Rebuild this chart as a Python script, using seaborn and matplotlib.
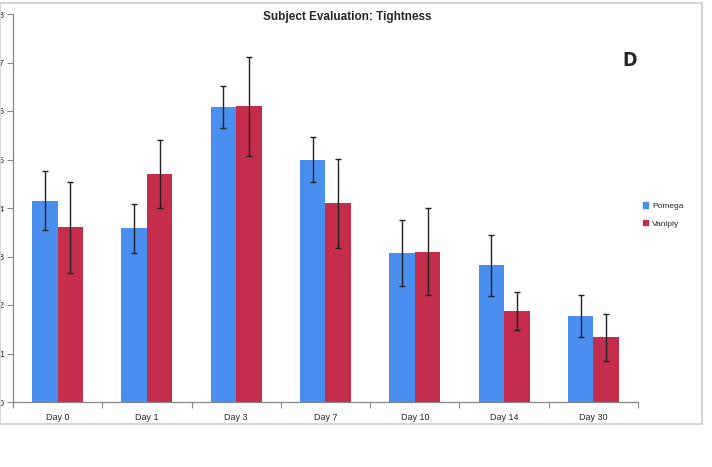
import matplotlib
matplotlib.use("Agg")
import matplotlib.pyplot as plt
import matplotlib.patches as mpatches
import seaborn as sns
import pandas as pd
import numpy as np

# data
days = ["Day 0", "Day 1", "Day 3", "Day 7", "Day 10", "Day 14", "Day 30"]
pomega = [4.15, 3.58, 6.08, 5.00, 3.08, 2.82, 1.77]
pomega_err = [0.61, 0.51, 0.44, 0.46, 0.68, 0.63, 0.44]
vaniply = [3.60, 4.70, 6.10, 4.10, 3.10, 1.88, 1.33]
vaniply_err = [0.93, 0.71, 1.02, 0.92, 0.89, 0.39, 0.49]
products = ["Pomega", "Vaniply"]
colors = ["#4a8ff0", "#c42d4b"]

df = pd.DataFrame({
    "day": days * 2,
    "product": [products[0]] * len(days) + [products[1]] * len(days),
    "score": pomega + vaniply,
})

sns.set_style("white")
plt.rcParams["font.family"] = ["Liberation Sans", "DejaVu Sans"]

W, H = 712, 467
fig = plt.figure(figsize=(W / 100, H / 100), dpi=100)
ax = fig.add_axes([13 / W, (H - 402) / H, (638 - 13) / W, (402 - 14) / H])

sns.barplot(data=df, x="day", y="score", hue="product", order=days,
            hue_order=products, palette=colors, width=0.57, gap=0,
            errorbar=None, saturation=1, legend=False, linewidth=0, ax=ax)

# error bars at the centre of each bar
bars = [p for p in ax.patches if p.get_height() > 0]
for c, vals, errs in [(colors[0], pomega, pomega_err), (colors[1], vaniply, vaniply_err)]:
    pts = [p for p in bars if matplotlib.colors.to_hex(p.get_facecolor()) == c]
    pts.sort(key=lambda b: b.get_x())
    xs = [p.get_x() + p.get_width() / 2 for p in pts]
    ax.errorbar(xs, vals, yerr=errs, fmt="none", ecolor="#222222",
                elinewidth=1.0, capsize=2.5, capthick=1.0)

ax.set_xlim(-0.5, len(days) - 0.5)
ax.set_ylim(0, 8)
ax.set_yticks(range(0, 9))
ax.set_xlabel("")
ax.set_ylabel("")
ax.tick_params(axis="y", direction="out", length=4, width=0.8, color="#868686",
               labelsize=6.5, pad=2.5, left=True)
ax.tick_params(axis="x", which="major", length=0, labelsize=6.5, pad=8)
ax.set_xticks(np.arange(-0.5, len(days)), minor=True)
ax.tick_params(axis="x", which="minor", direction="out", length=4, width=0.8,
               color="#868686", bottom=True)
for s in ["top", "right"]:
    ax.spines[s].set_visible(False)
for s in ["left", "bottom"]:
    ax.spines[s].set_color("#868686")
    ax.spines[s].set_linewidth(0.9)

# chart frame
fig.patches.append(mpatches.Rectangle((0 / W, (H - 424) / H), 702 / W, 421 / H,
                                      transform=fig.transFigure, fill=False,
                                      edgecolor="#d6d6d6", linewidth=1.5))

fig.text(347 / W, 1 - 17 / H, "Subject Evaluation: Tightness", ha="center",
         va="center", fontsize=8.5, fontweight="bold")
fig.text(630 / W, 1 - 60 / H, "D", ha="center", va="center", fontsize=14,
         fontweight="bold", family="DejaVu Sans", fontstretch="condensed")

handles = [mpatches.Patch(color=c, label=l) for c, l in zip(colors, products)]
fig.legend(handles=handles, loc="center left", bbox_to_anchor=(643 / W, 1 - 215 / H),
           frameon=False, fontsize=6, handlelength=0.6, handleheight=0.6,
           handletextpad=0.5, labelspacing=1.2, borderaxespad=0, borderpad=0)

fig.savefig("out.png", dpi=100)
